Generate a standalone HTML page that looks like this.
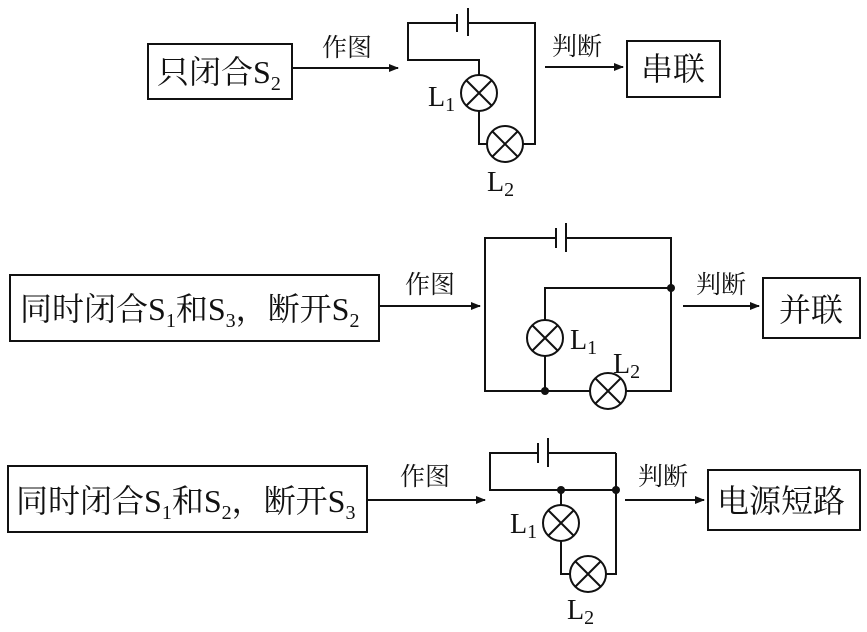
<!DOCTYPE html>
<html><head><meta charset="utf-8"><style>
html,body{margin:0;padding:0;background:#fff}
svg{display:block}
text{font-family:"Liberation Serif","Noto Serif CJK SC","Noto Sans CJK SC",serif;fill:#111}
.b{font-size:32px}
.s{font-size:20px}
.l{font-size:25px}
.ll{font-size:28px}
</style></head><body>
<svg width="867" height="632" viewBox="0 0 867 632" xmlns="http://www.w3.org/2000/svg">
<defs><marker id="a" markerWidth="10" markerHeight="8" refX="9" refY="4" orient="auto" markerUnits="userSpaceOnUse"><path d="M0,0 L10,4 L0,8 z" fill="#111"/></marker></defs>
<g stroke="#111" stroke-width="2" fill="none">
<rect x="148" y="44" width="144" height="55"/>
<line x1="292" y1="68" x2="398" y2="68" marker-end="url(#a)"/>
<line x1="545" y1="67" x2="623" y2="67" marker-end="url(#a)"/>
<rect x="627" y="41" width="93" height="56"/>
<path d="M457,23 H408 V60 H479 V75 M479,111 V144 H487 M523,144 H535 V23 H468"/>
<line x1="457" y1="14" x2="457" y2="32"/><line x1="468" y1="8" x2="468" y2="36"/>
<circle cx="479" cy="93" r="18"/><path d="M466,80 L492,106 M492,80 L466,106"/>
<circle cx="505" cy="144" r="18"/><path d="M492,131 L518,157 M518,131 L492,157"/>
<rect x="10" y="275" width="369" height="66"/>
<line x1="379" y1="306" x2="480" y2="306" marker-end="url(#a)"/>
<line x1="683" y1="306" x2="759" y2="306" marker-end="url(#a)"/>
<rect x="763" y="278" width="97" height="60"/>
<path d="M556,238 H485 V391 H590 M626,391 H671 V238 H566 M671,288 H545 V320 M545,356 V391"/>
<line x1="556" y1="228" x2="556" y2="248"/><line x1="566" y1="223" x2="566" y2="252"/>
<circle cx="545" cy="338" r="18"/><path d="M532,325 L558,351 M558,325 L532,351"/>
<circle cx="608" cy="391" r="18"/><path d="M595,378 L621,404 M621,378 L595,404"/>
<rect x="8" y="466" width="359" height="66"/>
<line x1="367" y1="500" x2="485" y2="500" marker-end="url(#a)"/>
<line x1="625" y1="500" x2="704" y2="500" marker-end="url(#a)"/>
<rect x="708" y="470" width="152" height="60"/>
<path d="M538,453 H490 V490 H616 M616,453 H548 M616,453 V574 H606 M561,490 V505 M561,541 V574 H570"/>
<line x1="538" y1="443" x2="538" y2="463"/><line x1="548" y1="438" x2="548" y2="467"/>
<circle cx="561" cy="523" r="18"/><path d="M548,510 L574,536 M574,510 L548,536"/>
<circle cx="588" cy="574" r="18"/><path d="M575,561 L601,587 M601,561 L575,587"/>
</g>
<g fill="#111"><circle cx="671" cy="288" r="4"/><circle cx="545" cy="391" r="4"/><circle cx="561" cy="490" r="4"/><circle cx="616" cy="490" r="4"/></g>
<text class="b" x="157" y="83">只闭合S<tspan class="s" dy="7">2</tspan></text>
<text class="l" x="322" y="56">作图</text>
<text class="l" x="552" y="55">判断</text>
<text class="b" x="641" y="80">串联</text>
<text class="ll" x="428" y="106">L<tspan class="s" dy="5">1</tspan></text>
<text class="ll" x="487" y="191">L<tspan class="s" dy="5">2</tspan></text>

<text class="b" x="20" y="320">同时闭合S<tspan class="s" dy="7">1</tspan><tspan dy="-7">和S</tspan><tspan class="s" dy="7">3</tspan><tspan dy="-7">，断开S</tspan><tspan class="s" dy="7">2</tspan></text>
<text class="l" x="405" y="293">作图</text>
<text class="l" x="696" y="293">判断</text>
<text class="b" x="779" y="321">并联</text>
<text class="ll" x="570" y="349">L<tspan class="s" dy="5">1</tspan></text>
<text class="ll" x="613" y="373">L<tspan class="s" dy="5">2</tspan></text>

<text class="b" x="16" y="512">同时闭合S<tspan class="s" dy="7">1</tspan><tspan dy="-7">和S</tspan><tspan class="s" dy="7">2</tspan><tspan dy="-7">，断开S</tspan><tspan class="s" dy="7">3</tspan></text>
<text class="l" x="400" y="485">作图</text>
<text class="l" x="638" y="485">判断</text>
<text class="b" x="717" y="512">电源短路</text>
<text class="ll" x="510" y="533">L<tspan class="s" dy="5">1</tspan></text>
<text class="ll" x="567" y="619">L<tspan class="s" dy="5">2</tspan></text>
</svg>
</body></html>
